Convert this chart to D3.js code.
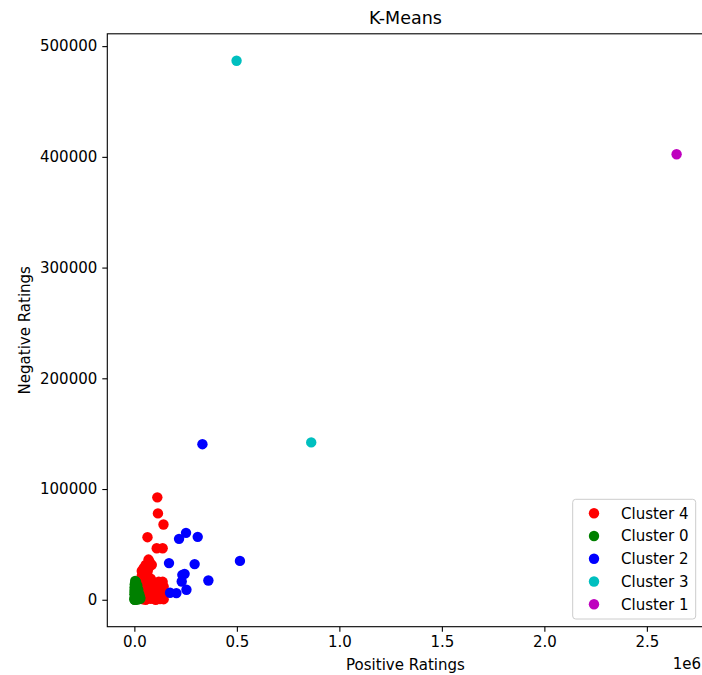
<!DOCTYPE html>
<html>
<head>
<meta charset="utf-8">
<script src="https://cdn.jsdelivr.net/npm/d3@7"></script>
<style>
  html, body { margin: 0; padding: 0; background: #fff; }
  svg { display: block; font-family: "DejaVu Sans", sans-serif; }
</style>
</head>
<body>
<svg id="chart" width="702" height="675"></svg>
<script>
// ---- Data (positive ratings, negative ratings) ----
const cluster4 = [ // red
  [112000, 92500], [115000, 78000], [142000, 68000], [64000, 56500],
  [109000, 46500], [138000, 46500], [69000, 36300], [75000, 34000],
  [55000, 31500], [85000, 31500], [45000, 28500], [70000, 29000],
  [36000, 26000], [65000, 26000], [36000, 21600], [65000, 21600], [50000, 24000],
  [80000, 19000], [45000, 18500],
  [31000, 16200], [60000, 16200], [90000, 16200], [119000, 16200], [138000, 16200],
  [45000, 14000], [75000, 14000], [105000, 14000], [130000, 13500],
  [31000, 11700], [60000, 11700], [90000, 11700], [119000, 11700], [143000, 11700],
  [45000, 9500], [75000, 9500], [105000, 9500], [131000, 9500],
  [31000, 7200], [60000, 7200], [90000, 7200], [119000, 7200], [143000, 7200],
  [45000, 5000], [75000, 5000], [105000, 5000], [131000, 5000],
  [31000, 2700], [60000, 2700], [90000, 2700], [119000, 2700], [138000, 2700],
  [40000, 500], [55000, 0], [80000, 800], [104000, 0], [125000, 600], [143000, 500]
];
const cluster0 = [ // green
  [4000, 17000], [8000, 16000], [2000, 14000], [9000, 14000], [14000, 13000],
  [1000, 11000], [7000, 11000], [14000, 10000], [19000, 9000], [500, 8000],
  [6000, 8000], [12000, 7000], [18000, 6000], [24000, 5000], [300, 5000],
  [5000, 4000], [11000, 4000], [17000, 3000], [23000, 3000], [28000, 2000],
  [500, 1500], [5000, 1000], [11000, 1000], [17000, 800], [23000, 600],
  [29000, 1000], [200, 200], [7000, 100], [14000, 200], [2000, 0]
];
const cluster2 = [ // blue
  [332000, 140500], [252000, 60400], [218000, 55000], [309000, 56800],
  [515000, 35100], [169000, 33100], [294000, 32200], [234000, 22500],
  [245000, 23400], [231000, 16500], [361000, 17400], [254000, 9000],
  [174000, 6300], [205000, 6000]
];
const cluster3 = [ // cyan
  [498500, 486800], [862700, 142100]
];
const cluster1 = [ // magenta
  [2645000, 402400]
];
const seriesNames = ["Cluster 4", "Cluster 0", "Cluster 2", "Cluster 3", "Cluster 1"];
const seriesData = [cluster4, cluster0, cluster2, cluster3, cluster1];
const seriesColors = ["#ff0000", "#008000", "#0000ff", "#00bfbf", "#bf00bf"];
const xTickValues = [0, 500000, 1000000, 1500000, 2000000, 2500000];
const yTickValues = [0, 100000, 200000, 300000, 400000, 500000];

(function () {
  // ---- Layout ----
  const pL = 107.3, pR = 703.7, pT = 33.8, pB = 626.7;
  const svg = d3.select("#chart");

  const all = seriesData.flat();
  const xExt = d3.extent(all, d => d[0]);
  const yExt = d3.extent(all, d => d[1]);
  const xPad = (xExt[1] - xExt[0]) * 0.05;
  const yPad = (yExt[1] - yExt[0]) * 0.05;

  const x = d3.scaleLinear().domain([xExt[0] - xPad, xExt[1] + xPad]).range([pL, pR]);
  const y = d3.scaleLinear().domain([yExt[0] - yPad, yExt[1] + yPad]).range([pB, pT]);

  // Points
  seriesData.forEach((pts, i) => {
    svg.append("g")
      .selectAll("circle")
      .data(pts)
      .join("circle")
      .attr("cx", d => x(d[0]))
      .attr("cy", d => y(d[1]))
      .attr("r", 5.2)
      .attr("fill", seriesColors[i]);
  });

  // Axes
  const xAxis = d3.axisBottom(x).tickValues(xTickValues)
    .tickFormat(d => (d / 1e6).toFixed(1)).tickSize(5).tickPadding(5);
  const yAxis = d3.axisLeft(y).tickValues(yTickValues)
    .tickFormat(d3.format("d")).tickSize(5).tickPadding(5);

  const gx = svg.append("g").attr("transform", `translate(0,${pB})`).call(xAxis);
  const gy = svg.append("g").attr("transform", `translate(${pL},0)`).call(yAxis);
  [gx, gy].forEach(g => {
    g.select(".domain").remove();
    g.selectAll(".tick line").attr("stroke", "#000").attr("stroke-width", 1.1);
    g.selectAll(".tick text").attr("fill", "#000").style("font-size", "15px")
      .style("font-family", "DejaVu Sans, sans-serif");
  });

  // Frame
  svg.append("rect")
    .attr("x", pL).attr("y", pT)
    .attr("width", pR - pL).attr("height", pB - pT)
    .attr("fill", "none").attr("stroke", "#000").attr("stroke-width", 1.1);

  // Title and labels
  svg.append("text")
    .attr("x", (pL + pR) / 2).attr("y", 24)
    .attr("text-anchor", "middle").style("font-size", "17.5px")
    .text("K-Means");
  svg.append("text")
    .attr("x", (pL + pR) / 2).attr("y", 670)
    .attr("text-anchor", "middle").style("font-size", "15px")
    .text("Positive Ratings");
  svg.append("text")
    .attr("transform", `translate(30,${(pT + pB) / 2}) rotate(-90)`)
    .attr("text-anchor", "middle").style("font-size", "15px")
    .text("Negative Ratings");
  svg.append("text")
    .attr("x", 701).attr("y", 669)
    .attr("text-anchor", "end").style("font-size", "15px")
    .text("1e6");

  // Legend
  const lg = svg.append("g");
  lg.append("rect")
    .attr("x", 572.7).attr("y", 499.3)
    .attr("width", 123).attr("height", 119.7)
    .attr("rx", 3)
    .attr("fill", "#fff").attr("fill-opacity", 0.8)
    .attr("stroke", "#cccccc").attr("stroke-width", 1);
  seriesNames.forEach((name, i) => {
    const cy = 513.3 + i * 22.75;
    lg.append("circle").attr("cx", 594).attr("cy", cy).attr("r", 5.2)
      .attr("fill", seriesColors[i]);
    lg.append("text").attr("x", 621).attr("y", cy + 5.3)
      .style("font-size", "15px").attr("fill", "#000").text(name);
  });
})();
</script>
</body>
</html>
